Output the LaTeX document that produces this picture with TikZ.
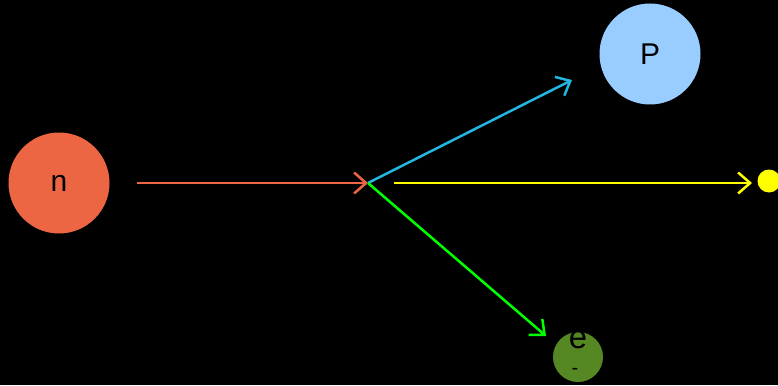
\documentclass[tikz,border=0pt]{standalone}
\usepackage{fontspec}
\setmainfont{Liberation Sans}
\usetikzlibrary{arrows.meta}
\definecolor{nred}{RGB}{236,102,68}
\definecolor{pblue}{RGB}{153,204,255}
\definecolor{egreen}{RGB}{85,136,34}
\definecolor{ablue}{RGB}{34,182,224}
\definecolor{ayel}{RGB}{255,255,0}
\definecolor{agreen}{RGB}{0,255,0}
\tikzset{
  particle/.style={circle, inner sep=0pt, draw=none},
  conn/.style={line width=2.5pt, -{Straight Barb[length=12pt, width=21pt, line width=2.5pt]}},
}
\begin{document}
\begin{tikzpicture}[x=1pt,y=-1pt]
\fill[black] (0,0) rectangle (778,385);
\useasboundingbox (0,0) rectangle (778,385);
\node[particle, fill=nred, minimum size=101pt, font=\fontsize{30}{31}\selectfont] (n) at (59,183) {n};
\node[particle, fill=pblue, minimum size=101pt, font=\fontsize{30}{31}\selectfont] (P) at (650,54) {P};
\node[particle, fill=egreen, minimum size=50pt] (e) at (578,357) {};
\node[font=\fontsize{33}{34}\selectfont, inner sep=0pt] (elab) at (578,340) {e};
\node[font=\fontsize{20}{20}\selectfont, inner sep=0pt] (eminus) at (575,371) {-};
\node[particle, fill=ayel, minimum size=23pt] (dot) at (769,181) {};
\coordinate (v) at (368,183);
\coordinate (rs) at (137,183);
\coordinate (ys) at (394,183);
\coordinate (bt) at (572,80);
\coordinate (gt) at (546,336);
\coordinate (yt) at (752,183);
\draw[conn, nred] (rs) -- (v);
\draw[conn, ablue] (v) -- (bt);
\draw[conn, ayel] (ys) -- (yt);
\draw[conn, agreen] (v) -- (gt);
\end{tikzpicture}
\end{document}
